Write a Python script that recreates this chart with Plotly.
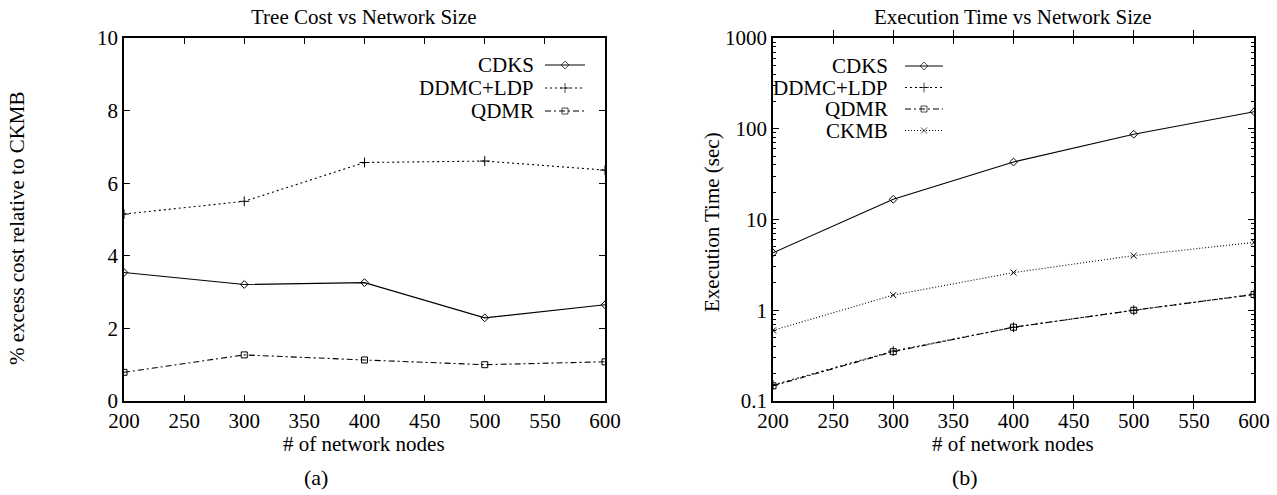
import plotly.graph_objects as go

# ---- data ----
nodes = [200, 300, 400, 500, 600]
cost_cdks = [3.54, 3.21, 3.26, 2.29, 2.65]
cost_ddmc = [5.15, 5.50, 6.57, 6.61, 6.36]
cost_qdmr = [0.79, 1.27, 1.13, 1.00, 1.08]
time_cdks = [4.3, 16.7, 43, 87, 154]
time_ddmc = [0.150, 0.355, 0.65, 1.00, 1.50]
time_qdmr = [0.147, 0.350, 0.65, 1.00, 1.49]
time_ckmb = [0.60, 1.47, 2.6, 4.0, 5.6]
names_a = ["CDKS", "DDMC+LDP", "QDMR"]
names_b = ["CDKS", "DDMC+LDP", "QDMR", "CKMB"]
log_major = [0.1, 1, 10, 100, 1000]
log_major_text = ["0.1", "1", "10", "100", "1000"]
log_minor = [m * d for d in [0.1, 1, 10, 100] for m in range(2, 10)]

W, H = 1277, 495
FONT = "Liberation Serif"
FS = 21

styles = {
    "CDKS": dict(dash="solid", symbol="diamond-open", size=6),
    "DDMC+LDP": dict(dash="2px,3px", symbol="cross-thin-open", size=7),
    "QDMR": dict(dash="6px,3px,2px,3px", symbol="square-open", size=6),
    "CKMB": dict(dash="1px,2px", symbol="x-thin-open", size=6),
}


def px(x):
    return x / W


def py(y):
    return 1 - y / H


fig = go.Figure()


def add_series(x, y, name, xa, ya):
    s = styles[name]
    fig.add_trace(go.Scatter(
        x=x, y=y, mode="lines+markers", name=name, showlegend=False,
        xaxis=xa, yaxis=ya,
        line=dict(color="black", width=1.1, dash=s["dash"]),
        marker=dict(symbol=s["symbol"], size=s["size"], color="black",
                    line=dict(color="black", width=1)),
    ))


add_series(nodes, cost_cdks, "CDKS", "x", "y")
add_series(nodes, cost_ddmc, "DDMC+LDP", "x", "y")
add_series(nodes, cost_qdmr, "QDMR", "x", "y")
add_series(nodes, time_cdks, "CDKS", "x2", "y2")
add_series(nodes, time_ddmc, "DDMC+LDP", "x2", "y2")
add_series(nodes, time_qdmr, "QDMR", "x2", "y2")
add_series(nodes, time_ckmb, "CKMB", "x2", "y2")

# ---- manual gnuplot-style legends (pixel overlay axis) ----
annotations = []


def add_legend(names, text_right, x0, x1, y0, dy):
    for i, n in enumerate(names):
        yy = y0 + i * dy
        s = styles[n]
        fig.add_trace(go.Scatter(
            x=[x0, (x0 + x1) / 2, x1], y=[yy, yy, yy], mode="lines+markers",
            xaxis="x3", yaxis="y3", showlegend=False, hoverinfo="skip",
            line=dict(color="black", width=1.1, dash=s["dash"]),
            marker=dict(symbol=s["symbol"], size=[0, s["size"], 0], color="black",
                        line=dict(color="black", width=1)),
        ))
        annotations.append(dict(
            x=px(text_right), y=py(yy), xref="paper", yref="paper",
            text=n, showarrow=False, xanchor="right", yanchor="middle",
            font=dict(family=FONT, size=FS, color="black")))


add_legend(names_a, 536, 545, 585, 65, 23)
add_legend(names_b, 890, 905, 943, 66, 21.5)

axis_common = dict(
    showline=True, linecolor="black", linewidth=1.5, mirror="allticks",
    ticks="inside", ticklen=6, tickcolor="black", tickwidth=1,
    showgrid=False, zeroline=False, automargin=False,
    tickfont=dict(family=FONT, size=FS, color="black"),
)

ydom = [py(401), py(38)]

fig.update_layout(
    width=W, height=H,
    margin=dict(l=0, r=0, t=0, b=0, autoexpand=False),
    paper_bgcolor="white", plot_bgcolor="rgba(0,0,0,0)",
    xaxis=dict(domain=[px(124), px(605)], range=[200, 600], dtick=50,
               tick0=200, anchor="y", **axis_common),
    yaxis=dict(domain=ydom, range=[0, 10], dtick=2, anchor="x", **axis_common),
    xaxis2=dict(domain=[px(773), px(1254)], range=[200, 600], dtick=50,
                tick0=200, anchor="y2", **axis_common),
    yaxis2=dict(domain=ydom, type="log", range=[-1, 3],
                tickmode="array", tickvals=log_major, ticktext=log_major_text,
                anchor="x2", **axis_common),
    yaxis4=dict(domain=ydom, type="log", range=[-1, 3], overlaying="y2",
                anchor="x2", side="left", tickmode="array", tickvals=log_minor,
                showticklabels=False, ticks="inside", ticklen=3,
                tickcolor="black", tickwidth=1, mirror="allticks",
                showline=False, showgrid=False, zeroline=False,
                automargin=False, fixedrange=True),
    xaxis3=dict(domain=[0, 1], range=[0, W], visible=False, fixedrange=True,
                automargin=False, anchor="y3"),
    yaxis3=dict(domain=[0, 1], range=[H, 0], visible=False, fixedrange=True,
                automargin=False, anchor="x3"),
    font=dict(family=FONT, color="black"),
)

# invisible trace so the minor-tick axis is drawn
fig.add_trace(go.Scatter(x=[nodes[0]], y=[time_cdks[0]], xaxis="x2", yaxis="y4",
                         mode="markers", marker=dict(opacity=0),
                         showlegend=False, hoverinfo="skip"))

texts = [
    ("Tree Cost vs Network Size", 364, 17, FS, 0),
    ("Execution Time vs Network Size", 1013, 17, FS, 0),
    ("# of network nodes", 364, 444, FS, 0),
    ("# of network nodes", 1013, 444, FS, 0),
    ("(a)", 316, 477, 22, 0),
    ("(b)", 965, 477, 22, 0),
    ("% excess cost relative to CKMB", 17, 228, FS, -90),
    ("Execution Time (sec)", 712, 222, FS, -90),
]
for t, x, y, size, ang in texts:
    annotations.append(dict(
        x=px(x), y=py(y), xref="paper", yref="paper", text=t, showarrow=False,
        xanchor="center", yanchor="middle", textangle=ang,
        font=dict(family=FONT, size=size, color="black")))

fig.update_layout(annotations=annotations)

fig.write_html(
    "out.html",
    config={"displayModeBar": False},
    post_script="document.body.style.margin='0';document.body.style.overflow='hidden';",
)
